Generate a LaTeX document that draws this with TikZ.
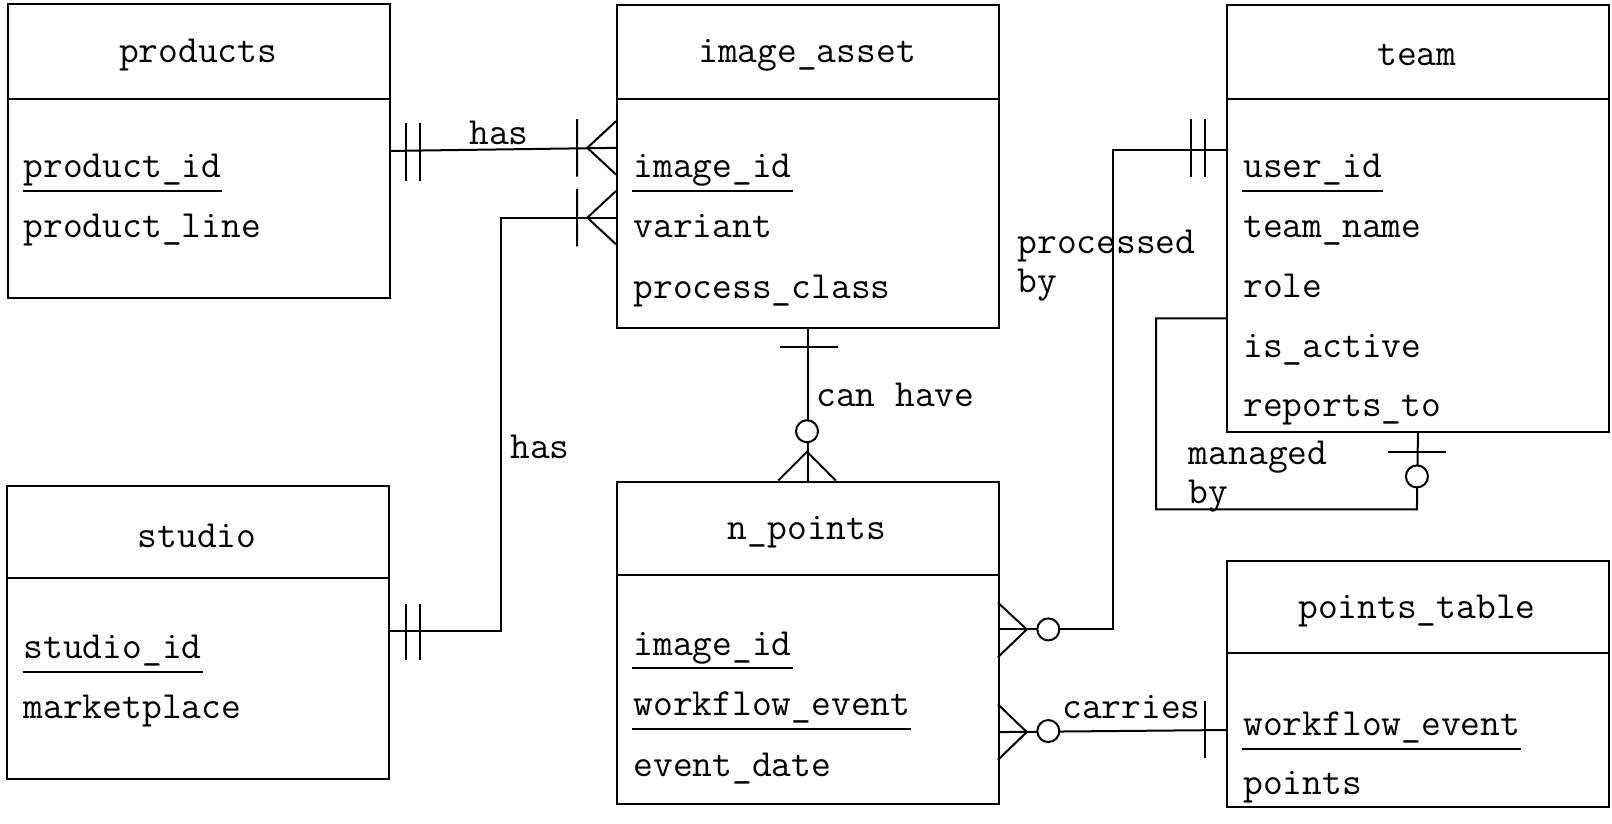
\documentclass[tikz,border=0pt]{standalone}
\usepackage{fontspec}
\usetikzlibrary{calc}
\begin{document}
\begin{tikzpicture}[x=0.5134pt,y=-0.5134pt, line width=1pt,
  font=\ttfamily\fontsize{19.2}{19.5}\selectfont,
  ent/.style={draw, anchor=north west, inner sep=0, minimum width=372*0.5134pt},
  hdr/.style={inner sep=0},
  fld/.style={anchor=base west, inner sep=0},
  lbl/.style={inner sep=0, align=left},
  tick/.style={line width=1pt},
  ring/.style={draw, fill=white, circle, inner sep=0, minimum size=11pt}]
\fill[white] (0,0) rectangle (1570,802.5);
\useasboundingbox (0,0) rectangle (1570,802.5);

% ---------- entities ----------
\node[ent, minimum height=286*0.5134pt] (products) at (7,3) {};
\draw (7,96) -- (379,96);
\node[hdr] (products-h) at (193,54) {products};
\node[fld] (pid) at (22,173) {product\_id};
\node[fld] (pline) at (22,231) {product\_line};
\draw ($(pid.base west)+(0,13)$) -- ($(pid.base east)+(0,13)$);

\node[ent, minimum height=314*0.5134pt] (image_asset) at (600,4) {};
\draw (600,96) -- (972,96);
\node[hdr] (ia-h) at (786,54) {image\_asset};
\node[fld] (iaid) at (616,173) {image\_id};
\node[fld] (iavar) at (616,231) {variant};
\node[fld] (iapc) at (616,291) {process\_class};
\draw ($(iaid.base west)+(0,13)$) -- ($(iaid.base east)+(0,13)$);

\node[ent, minimum height=416*0.5134pt] (team) at (1194,4) {};
\draw (1194,96) -- (1566,96);
\node[hdr] (team-h) at (1380,54) {team};
\node[fld] (uid) at (1210,173) {user\_id~};
\node[fld] (tname) at (1210,231) {team\_name};
\node[fld] (role) at (1210,290) {role};
\node[fld] (isact) at (1210,348) {is\_active};
\node[fld] (rto) at (1210,406) {reports\_to};
\draw ($(uid.base west)+(0,13)$) -- ($(uid.base east)+(0,13)$);

\node[ent, minimum height=286*0.5134pt] (studio) at (6,472) {};
\draw (6,563) -- (378,563);
\node[hdr] (studio-h) at (192,522) {studio};
\node[fld] (sid) at (22,641) {studio\_id};
\node[fld] (mkt) at (22,700) {marketplace};
\draw ($(sid.base west)+(0,13)$) -- ($(sid.base east)+(0,13)$);

\node[ent, minimum height=314*0.5134pt] (n_points) at (600,468) {};
\draw (600,560) -- (972,560);
\node[hdr] (np-h) at (786,518) {n\_points};
\node[fld] (npid) at (616,638) {image\_id};
\node[fld] (npwe) at (616,697) {workflow\_event};
\node[fld] (npdate) at (616,756) {event\_date};
\draw ($(npid.base west)+(0,13)$) -- ($(npid.base east)+(0,13)$);
\draw ($(npwe.base west)+(0,13)$) -- ($(npwe.base east)+(0,13)$);

\node[ent, minimum height=240*0.5134pt] (points_table) at (1194,545) {};
\draw (1194,636) -- (1566,636);
\node[hdr] (pt-h) at (1380,595) {points\_table};
\node[fld] (ptwe) at (1210,716) {workflow\_event};
\node[fld] (ptpts) at (1210,774) {points};
\draw ($(ptwe.base west)+(0,13)$) -- ($(ptwe.base east)+(0,13)$);

% ---------- products -- image_asset : has ----------
\draw ($(products.north east)+(0,144)$) -- ($(image_asset.north west)+(0,140)$);
\draw[tick] (395,120) -- (395,176) (409,120) -- (409,176);
\draw[tick] (600,118) -- (572,144) -- (600,170) (562,116) -- (562,172);
\node[hdr] (has1) at (486,129) {has};

% ---------- studio -- image_asset : has ----------
\draw ($(studio.north east)+(0,143)$) -- (488,615) -- (488,212) -- ($(image_asset.north west)+(0,208)$);
\draw[tick] (395,588) -- (395,643) (409,588) -- (409,643);
\draw[tick] (600,186) -- (572,212) -- (600,238) (562,184) -- (562,240);
\node[hdr] (has2) at (526,435) {has};

% ---------- image_asset -- n_points : can have ----------
\draw (image_asset.south) -- (n_points.north);
\draw[tick] (760,338) -- (816,338);
\draw[tick] (758,468) -- (786,440) -- (814,468);
\node[ring] (r1) at (786,420) {};
\node[hdr] (canhave) at (872,385) {can have};

% ---------- team -- n_points : processed by ----------
\draw ($(team.north west)+(0,142)$) -- (1084,146) -- (1084,613) -- ($(n_points.north east)+(0,145)$);
\draw[tick] (1160,116) -- (1160,172) (1174,116) -- (1174,172);
\draw[tick] (972,587) -- (1000,613) -- (972,640);
\node[ring] (r2) at (1021,613) {};
\node[lbl, anchor=north west] (procby) at (990,223) {processed\\by};

% ---------- points_table -- n_points : carries ----------
\draw ($(points_table.north west)+(0,166)$) -- ($(n_points.north east)+(0,245)$);
\draw[tick] (1174,683) -- (1174,738);
\draw[tick] (972,686) -- (1000,713) -- (972,740);
\node[ring] (r3) at (1021,712) {};
\node[hdr] (carries) at (1102,689) {carries};

% ---------- team self : managed by ----------
\draw ($(team.north west)+(0,306)$) -- (1126,310) -- (1126,496) -- (1380,496) -- (team.south);
\draw[tick] (1352,440) -- (1408,440);
\node[ring] (r4) at (1380,464) {};
\node[lbl, anchor=north west] (mgdby) at (1157,429) {managed\\by};
\end{tikzpicture}
\end{document}
